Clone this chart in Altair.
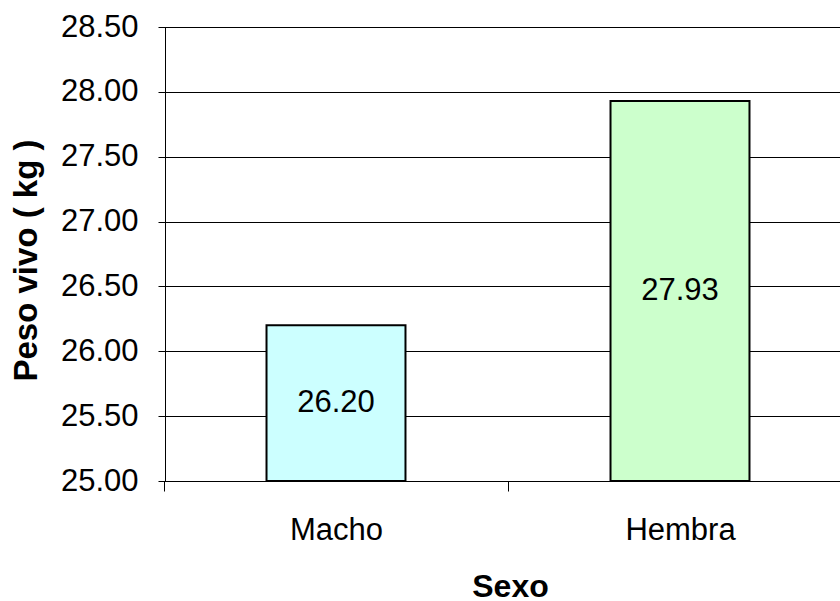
import altair as alt
import pandas as pd

categories = ["Macho", "Hembra"]
values = [26.20, 27.93]
colors = ["#CCFFFF", "#CCFFCC"]
y_ticks = [25.0, 25.5, 26.0, 26.5, 27.0, 27.5, 28.0, 28.5]
y_min, y_max = 25.0, 28.5

df = pd.DataFrame({"Sexo": categories, "Peso": values, "color": colors})

FONT = "Liberation Sans"

x_scale = alt.Scale(range=[-1, 687], paddingInner=0, paddingOuter=0)

x_enc = alt.X(
    "Sexo:N",
    sort=categories,
    title="Sexo",
    scale=x_scale,
    axis=alt.Axis(
        labelAngle=0,
        tickBand="extent",
        tickSize=10,
        tickColor="black",
        domainColor="black",
        labelFont=FONT,
        labelFontSize=31,
        labelColor="black",
        labelPadding=24,
        titleFont=FONT,
        titleFontSize=32,
        titleFontWeight="bold",
        titleColor="black",
        titleX=345,
        titleY=115,
        titleBaseline="alphabetic",
        grid=False,
    ),
)

y_enc = alt.Y(
    "Peso:Q",
    title="Peso vivo ( kg )",
    scale=alt.Scale(domain=[y_min, y_max], nice=False, zero=False),
    axis=alt.Axis(
        values=y_ticks,
        format=".2f",
        tickSize=7,
        tickColor="black",
        domainColor="black",
        grid=True,
        gridColor="black",
        gridWidth=1,
        labelFont=FONT,
        labelFontSize=31,
        labelColor="black",
        labelPadding=20,
        titleFont=FONT,
        titleFontSize=33,
        titleFontWeight="bold",
        titleColor="black",
        titleX=-129,
        titleY=233,
        titleAngle=270,
        titleAlign="center",
        titleBaseline="alphabetic",
    ),
)

base = alt.Chart(df)

bars = base.mark_bar(
    stroke="black", strokeWidth=2, width=alt.RelativeBandSize(0.404)
).encode(
    x=x_enc,
    y=y_enc,
    y2=alt.datum(y_min),
    color=alt.Color("color:N", scale=None, legend=None),
)

labels = base.transform_calculate(
    mid=f"({y_min} + datum.Peso) / 2"
).mark_text(font=FONT, fontSize=31, color="black", baseline="middle").encode(
    x=alt.X("Sexo:N", sort=categories),
    y=alt.Y("mid:Q"),
    text=alt.Text("Peso:Q", format=".2f"),
)

chart = (
    alt.layer(bars, labels)
    .properties(
        width=675,
        height=454,
        padding={"left": 165, "top": 27, "right": 0, "bottom": 120},
        autosize=alt.AutoSizeParams(type="none"),
        background="white",
    )
    .configure_view(stroke=None)
)

chart.save("out.html", embed_options={"renderer": "svg", "actions": False})
